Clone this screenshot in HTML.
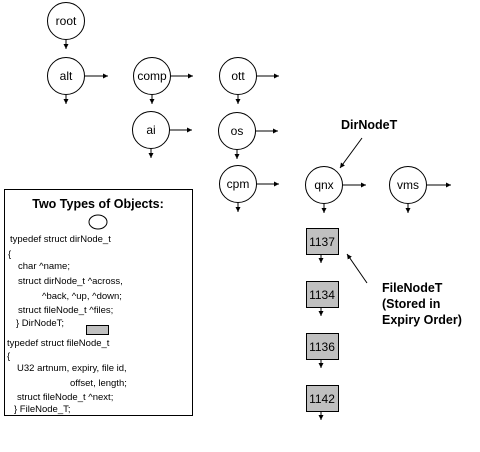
<!DOCTYPE html>
<html><head><style>body{margin:0;background:#fff}svg{display:block}</style></head><body>
<svg width="480" height="452" viewBox="0 0 480 452" xmlns="http://www.w3.org/2000/svg" font-family="Liberation Sans, sans-serif">
<defs><marker id="a" markerWidth="6" markerHeight="6" refX="5" refY="3" orient="auto" markerUnits="userSpaceOnUse"><path d="M0,0.5 L5,3 L0,5.5 Z" fill="#000"/></marker></defs>
<g fill="#fff" stroke="#000" stroke-width="1">
<circle cx="66" cy="21" r="18.5"/><circle cx="66" cy="76" r="18.5"/>
<circle cx="152" cy="76" r="18.5"/><circle cx="151" cy="130" r="18.5"/>
<circle cx="238" cy="76" r="18.5"/><circle cx="237" cy="131" r="18.5"/><circle cx="238" cy="184" r="18.5"/>
<circle cx="324" cy="185" r="18.5"/><circle cx="408" cy="185" r="18.5"/>
</g>
<g fill="#c0c0c0" stroke="#000">
<rect x="306.5" y="228.5" width="32" height="26"/><rect x="306.5" y="281.5" width="32" height="26"/>
<rect x="306.5" y="333.5" width="32" height="26"/><rect x="306.5" y="385.5" width="32" height="26"/>
</g>
<g stroke="#000" marker-end="url(#a)">
<line x1="66" y1="40" x2="66" y2="49"/><line x1="66" y1="95" x2="66" y2="104"/>
<line x1="152" y1="95" x2="152" y2="104"/><line x1="151" y1="149" x2="151" y2="158"/>
<line x1="238" y1="95" x2="238" y2="104"/><line x1="237" y1="150" x2="237" y2="159"/><line x1="238" y1="203" x2="238" y2="212"/>
<line x1="324" y1="204" x2="324" y2="213"/><line x1="408" y1="204" x2="408" y2="213"/>
<line x1="85" y1="76" x2="108" y2="76"/><line x1="171" y1="76" x2="193" y2="76"/><line x1="170" y1="130" x2="192" y2="130"/>
<line x1="257" y1="76" x2="279" y2="76"/><line x1="256" y1="131" x2="278" y2="131"/><line x1="257" y1="184" x2="279" y2="184"/>
<line x1="343" y1="185" x2="366" y2="185"/><line x1="427" y1="185" x2="451" y2="185"/>
<line x1="321" y1="255" x2="321" y2="263"/><line x1="321" y1="308" x2="321" y2="316"/><line x1="321" y1="360" x2="321" y2="368"/><line x1="321" y1="412" x2="321" y2="420"/>
<line x1="362" y1="138" x2="340" y2="168"/><line x1="367" y1="283" x2="347" y2="254"/>
</g>
<g font-size="12" text-anchor="middle">
<text x="66" y="25">root</text><text x="66" y="80">alt</text><text x="152" y="80">comp</text><text x="151" y="134">ai</text>
<text x="238" y="80">ott</text><text x="237" y="135">os</text><text x="238" y="188">cpm</text>
<text x="324" y="189">qnx</text><text x="408" y="189">vms</text>
<text x="322" y="246">1137</text><text x="322" y="299">1134</text><text x="322" y="351">1136</text><text x="322" y="403">1142</text>
</g>
<g font-size="12.5" font-weight="bold">
<text x="341" y="129">DirNodeT</text>
<text x="382" y="292">FileNodeT</text><text x="382" y="308">(Stored in</text><text x="382" y="324">Expiry Order)</text>
</g>
<rect x="4.5" y="189.5" width="188" height="226" fill="none" stroke="#000"/>
<text x="98" y="208" font-size="12.5" font-weight="bold" text-anchor="middle">Two Types of Objects:</text>
<ellipse cx="98" cy="222" rx="9" ry="7" fill="none" stroke="#000"/>
<rect x="86.5" y="325.5" width="22" height="9" fill="#c0c0c0" stroke="#000"/>
<g font-size="9.5">
<text x="10" y="242">typedef struct dirNode_t</text>
<text x="8" y="257">{</text>
<text x="18" y="269">char ^name;</text>
<text x="18" y="284">struct dirNode_t ^across,</text>
<text x="42" y="299">^back, ^up, ^down;</text>
<text x="18" y="313">struct fileNode_t ^files;</text>
<text x="16" y="326">} DirNodeT;</text>
<text x="7" y="346">typedef struct fileNode_t</text>
<text x="7" y="359">{</text>
<text x="17" y="371">U32 artnum, expiry, file id,</text>
<text x="70" y="386">offset, length;</text>
<text x="17" y="400">struct fileNode_t ^next;</text>
<text x="14" y="412">} FileNode_T;</text>
</g>
</svg>
</body></html>
